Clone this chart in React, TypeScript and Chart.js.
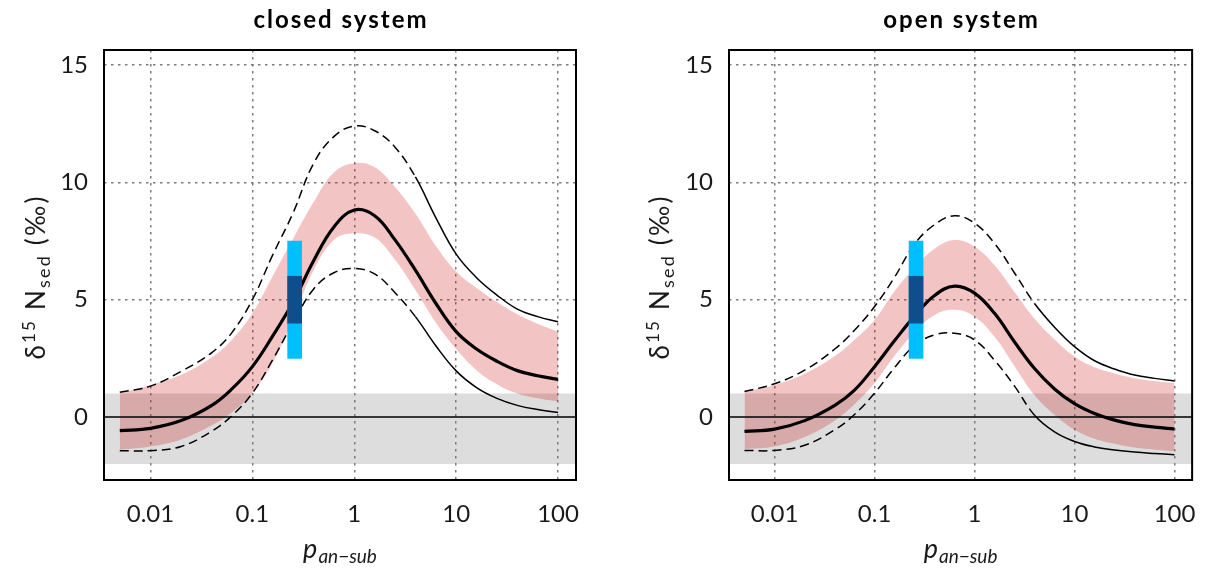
import React, { useEffect, useRef } from 'react';
import { Chart, registerables } from 'chart.js';

Chart.register(...registerables);

// ---------------- data ----------------
const X_MIN = 0.0035;
const X_MAX = 150;
const Y_MIN = -2.68;
const Y_MAX = 15.64;
const X_TICKS = [0.01, 0.1, 1, 10, 100];
const X_TICK_LABELS = ['0.01', '0.1', '1', '10', '100'];
const Y_TICKS = [0, 5, 10, 15];
const Y_TICK_LABELS = ['0', '5', '10', '15'];

const P_AN_SUB = [0.005, 0.01, 0.02, 0.04, 0.063, 0.1, 0.158, 0.251, 0.398, 0.631, 1, 1.585, 2.512, 3.981, 6.31, 10, 15.85, 25.12, 39.81, 63.1, 100];

const CLOSED_MEAN = [-0.58, -0.48, -0.15, 0.5, 1.2, 2.15, 3.45, 4.9, 6.65, 8.1, 8.82, 8.58, 7.55, 6.26, 4.85, 3.64, 2.9, 2.38, 1.98, 1.76, 1.61];
const CLOSED_BAND_HI = [1.02, 1.37, 1.8, 2.55, 3.3, 4.42, 6.0, 7.6, 9.15, 10.42, 10.82, 10.64, 9.8, 8.67, 7.3, 6.2, 5.5, 4.9, 4.38, 3.98, 3.64];
const CLOSED_BAND_LO = [-1.39, -1.25, -0.95, -0.35, 0.2, 1.02, 2.3, 4.2, 6.25, 7.55, 7.83, 7.65, 6.7, 5.41, 4.03, 2.9, 2.0, 1.4, 1.0, 0.8, 0.66];
const CLOSED_HI = [1.06, 1.32, 1.95, 2.75, 3.6, 5.0, 6.9, 8.7, 10.8, 11.95, 12.4, 12.2, 11.5, 10.23, 8.5, 6.94, 5.94, 5.2, 4.6, 4.28, 4.06];
const CLOSED_LO = [-1.43, -1.43, -1.25, -0.6, 0.06, 1.02, 2.44, 4.02, 5.45, 6.15, 6.33, 6.1, 5.3, 4.28, 3.04, 1.97, 1.26, 0.8, 0.5, 0.32, 0.2];

const OPEN_MEAN = [-0.61, -0.51, -0.15, 0.5, 1.15, 2.15, 3.25, 4.3, 5.18, 5.58, 5.28, 4.42, 3.2, 2.07, 1.2, 0.57, 0.15, -0.13, -0.32, -0.43, -0.51];
const OPEN_BAND_HI = [1.09, 1.37, 1.85, 2.6, 3.3, 4.14, 5.35, 6.36, 7.17, 7.54, 7.26, 6.47, 5.33, 4.19, 3.31, 2.58, 2.12, 1.86, 1.66, 1.54, 1.45];
const OPEN_BAND_LO = [-1.36, -1.25, -0.85, -0.14, 0.55, 1.45, 2.6, 3.6, 4.35, 4.57, 4.28, 3.42, 2.17, 0.93, 0.1, -0.54, -0.92, -1.14, -1.3, -1.39, -1.46];
const OPEN_HI = [1.09, 1.42, 2.0, 2.9, 3.7, 4.71, 5.95, 7.37, 8.2, 8.58, 8.26, 7.4, 6.14, 4.84, 3.83, 3.0, 2.4, 2.05, 1.79, 1.65, 1.54];
const OPEN_LO = [-1.42, -1.42, -1.2, -0.54, 0.11, 1.02, 2.1, 3.05, 3.5, 3.57, 3.29, 2.42, 1.32, 0.08, -0.63, -1.04, -1.27, -1.4, -1.49, -1.55, -1.6];

// outer model lines are dashed for segments starting below this p value
const DASH_END = 3.9;

const OBS_X = 0.26;
const OBS_OUTER = [2.5, 7.5];
const OBS_INNER = [4, 6];
const GREY_BAND = [-2, 1];

// ---------------- styles ----------------
const FONT = 'Lato, "Open Sans", sans-serif';
const PINK = 'rgba(205, 0, 0, 0.23)';
const GREY = 'rgba(128, 128, 128, 0.27)';
const LIGHT_BLUE = '#00BFFF';
const DARK_BLUE = '#104E8B';
const GRID = 'rgba(110,110,110,0.9)';

const pts = (ys: number[]) => P_AN_SUB.map((x, i) => ({ x, y: ys[i] }));

const decorPlugin = {
  id: 'decor',
  afterDraw(chart: any, _args: any, opts: any) {
    const { ctx, chartArea: a } = chart;
    ctx.save();
    // frame
    ctx.strokeStyle = '#000';
    ctx.lineWidth = 2;
    ctx.strokeRect(a.left, a.top, a.right - a.left, a.bottom - a.top);

    // title
    ctx.fillStyle = '#000';
    ctx.textBaseline = 'alphabetic';
    ctx.textAlign = 'center';
    ctx.font = `bold 24px ${FONT}`;
    ctx.letterSpacing = '2px';
    ctx.fillText(opts.title, (a.left + a.right) / 2 + 1, 28);
    ctx.letterSpacing = '0px';

    // x title: p_{an-sub}
    ctx.fillStyle = '#1a1a1a';
    ctx.textAlign = 'left';
    const fMain = `italic 27px ${FONT}`;
    const fSub = `italic 19px ${FONT}`;
    ctx.font = fMain;
    const wP = ctx.measureText('p').width;
    ctx.font = fSub;
    const sub = 'an\u2212sub';
    const wS = ctx.measureText(sub).width;
    const x0 = (a.left + a.right) / 2 - (wP + 1 + wS) / 2;
    ctx.font = fMain;
    ctx.fillText('p', x0, 558);
    ctx.font = fSub;
    ctx.fillText(sub, x0 + wP + 1, 563);

    // y title: δ^15 N_sed (‰)
    ctx.fillStyle = '#1a1a1a';
    ctx.letterSpacing = '2.2px';
    const pieces = [
      { t: '\u03b4', f: `26px ${FONT}`, dy: 0 },
      { t: '15', f: `17px ${FONT}`, dy: -10 },
      { t: ' N', f: `26px ${FONT}`, dy: 0 },
      { t: 'sed', f: `18px ${FONT}`, dy: 5 },
      { t: ' (\u2030)', f: `26px ${FONT}`, dy: 0 },
    ];
    let total = 0;
    const widths = pieces.map((p) => {
      ctx.font = p.f;
      const w = ctx.measureText(p.t).width;
      total += w;
      return w;
    });
    ctx.translate(opts.yTitleX, opts.yTitleY);
    ctx.rotate(-Math.PI / 2);
    let cx = -total / 2;
    pieces.forEach((p, i) => {
      ctx.font = p.f;
      ctx.fillText(p.t, cx, 9 + p.dy);
      cx += widths[i];
    });
    ctx.restore();
  },
};

function buildConfig(
  title: string,
  mean: number[],
  bandHi: number[],
  bandLo: number[],
  hi: number[],
  lo: number[],
  yAxisWidth: number,
  padRight: number,
  yTitleX: number
): any {
  const dashed = (ctx: any) => (ctx.p0.parsed.x < DASH_END ? [9, 5] : undefined);
  const lineBase = { pointRadius: 0, fill: false, tension: 0.4 };
  return {
    type: 'line',
    data: {
      datasets: [
        { ...lineBase, label: 'mean', data: pts(mean), borderColor: '#000', borderWidth: 3.2, order: 2 },
        { ...lineBase, label: 'upper', data: pts(hi), borderColor: '#000', borderWidth: 1.5, borderDash: [], segment: { borderDash: dashed }, order: 3 },
        { ...lineBase, label: 'lower', data: pts(lo), borderColor: '#000', borderWidth: 1.5, borderDash: [], segment: { borderDash: dashed }, order: 3 },
        { ...lineBase, label: 'band hi', data: pts(bandHi), borderWidth: 0, borderColor: 'rgba(0,0,0,0)', backgroundColor: PINK, fill: '+1', order: 6 },
        { ...lineBase, label: 'band lo', data: pts(bandLo), borderWidth: 0, borderColor: 'rgba(0,0,0,0)', order: 6 },
        { ...lineBase, label: 'zero', data: [{ x: X_MIN, y: 0 }, { x: X_MAX, y: 0 }], borderColor: '#000', borderWidth: 1.5, order: 4 },
        { ...lineBase, label: 'grey hi', data: [{ x: X_MIN, y: GREY_BAND[1] }, { x: X_MAX, y: GREY_BAND[1] }], borderWidth: 0, borderColor: 'rgba(0,0,0,0)', backgroundColor: GREY, fill: '+1', order: 10 },
        { ...lineBase, label: 'grey lo', data: [{ x: X_MIN, y: GREY_BAND[0] }, { x: X_MAX, y: GREY_BAND[0] }], borderWidth: 0, borderColor: 'rgba(0,0,0,0)', order: 10 },
        { type: 'bar', label: 'obs outer', data: [{ x: OBS_X, y: OBS_OUTER }], backgroundColor: LIGHT_BLUE, barThickness: 14, grouped: false, borderWidth: 0, order: 1 },
        { type: 'bar', label: 'obs inner', data: [{ x: OBS_X, y: OBS_INNER }], backgroundColor: DARK_BLUE, barThickness: 14, grouped: false, borderWidth: 0, order: 0 },
      ],
    },
    options: {
      responsive: false,
      animation: false,
      devicePixelRatio: 1,
      layout: { padding: { top: 50, right: padRight, left: 0, bottom: 0 } },
      plugins: {
        legend: { display: false },
        tooltip: { enabled: false },
        title: { display: false },
        decor: { title, yTitleX, yTitleY: 277 },
      },
      scales: {
        x: {
          type: 'logarithmic',
          min: X_MIN,
          max: X_MAX,
          offset: false,
          afterBuildTicks: (s: any) => {
            s.ticks = X_TICKS.map((v) => ({ value: v }));
          },
          afterFit: (s: any) => {
            s.height = 91;
          },
          ticks: {
            autoSkip: false,
            maxRotation: 0,
            padding: 20,
            color: '#1a1a1a',
            font: { family: FONT, size: 24 },
            callback: (_v: any, i: number) => X_TICK_LABELS[i],
          },
          grid: { color: GRID, lineWidth: 1.5, drawTicks: false, offset: false },
          border: { display: false, dash: [2.5, 4.5] },
        },
        y: {
          type: 'linear',
          min: Y_MIN,
          max: Y_MAX,
          afterBuildTicks: (s: any) => {
            s.ticks = Y_TICKS.map((v) => ({ value: v }));
          },
          afterFit: (s: any) => {
            s.width = yAxisWidth;
          },
          ticks: {
            padding: 16,
            color: '#1a1a1a',
            font: { family: FONT, size: 24 },
            callback: (_v: any, i: number) => Y_TICK_LABELS[i],
          },
          grid: {
            color: (c: any) => (c.tick && c.tick.value === 0 ? 'rgba(0,0,0,0)' : GRID),
            lineWidth: 1.5,
            drawTicks: false,
          },
          border: { display: false, dash: [2.5, 4.5] },
        },
      },
    },
    plugins: [decorPlugin],
  };
}

function Panel(props: { left: number; config: () => any }) {
  const ref = useRef<HTMLCanvasElement>(null);
  useEffect(() => {
    const chart = new Chart(ref.current as HTMLCanvasElement, props.config());
    return () => chart.destroy();
  }, []);
  return (
    <canvas
      ref={ref}
      width={608}
      height={571}
      style={{ position: 'absolute', left: props.left, top: 0, width: 608, height: 571 }}
    />
  );
}

export default function App() {
  return (
    <div style={{ position: 'fixed', left: 0, top: 0, width: 1216, height: 571, background: '#fff' }}>
      <Panel
        left={0}
        config={() => buildConfig('closed system', CLOSED_MEAN, CLOSED_BAND_HI, CLOSED_BAND_LO, CLOSED_HI, CLOSED_LO, 104, 32, 36)}
      />
      <Panel
        left={608}
        config={() => buildConfig('open system', OPEN_MEAN, OPEN_BAND_HI, OPEN_BAND_LO, OPEN_HI, OPEN_LO, 121, 16, 52)}
      />
    </div>
  );
}
